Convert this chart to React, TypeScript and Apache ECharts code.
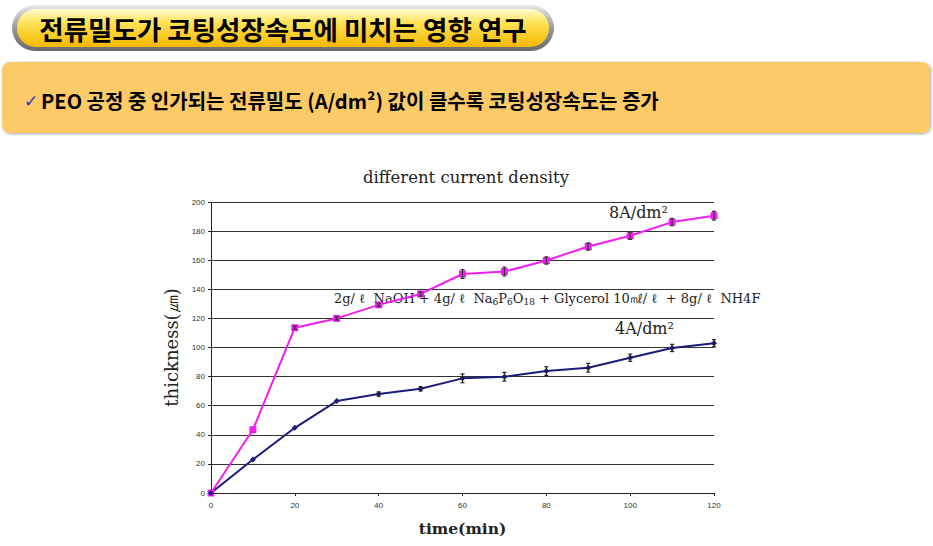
import React, { useEffect, useRef } from "react";
import * as echarts from "echarts";

const times = [0, 10, 20, 30, 40, 50, 60, 70, 80, 90, 100, 110, 120];
const thick8A = [0, 43.5, 113.6, 120, 129.3, 136.8, 150.5, 152.2, 159.8, 169.4, 176.8, 186.2, 190.6];
const err8A = [0, 0, 1, 1, 1, 1.5, 3, 3, 2.5, 2.5, 2.5, 2.5, 3];
const thick4A = [0, 23, 44.8, 63.2, 68, 71.6, 78.8, 79.9, 83.8, 86.1, 93, 99.7, 102.9];
const err4A = [0, 0, 0, 0, 1.5, 1.5, 3, 3, 3, 3, 2.5, 2.5, 2.5];

const titleText = "전류밀도가 코팅성장속도에 미치는 영향 연구";
const subText = "PEO 공정 중 인가되는 전류밀도 (A/dm²) 값이 클수록 코팅성장속도는 증가";
const chartTitle = "different current density";

const PINK = "#f01ef0";
const NAVY = "#1c1c7a";

function errData(vals: number[], errs: number[]) {
  return times.map((t, i) => [t, vals[i], errs[i]]);
}

function errRender(color: string) {
  return (params: any, api: any) => {
    const x = api.value(0);
    const y = api.value(1);
    const e = api.value(2);
    if (!e) return null;
    const top = api.coord([x, y + e]);
    const bot = api.coord([x, y - e]);
    const st = { stroke: color, lineWidth: 1.2 };
    return {
      type: "group",
      children: [
        { type: "line", shape: { x1: top[0], y1: top[1], x2: bot[0], y2: bot[1] }, style: st },
        { type: "line", shape: { x1: top[0] - 2, y1: top[1], x2: top[0] + 2, y2: top[1] }, style: st },
        { type: "line", shape: { x1: bot[0] - 2, y1: bot[1], x2: bot[0] + 2, y2: bot[1] }, style: st },
      ],
    };
  };
}

export default function App() {
  const ref = useRef<HTMLDivElement>(null);
  useEffect(() => {
    if (!ref.current) return;
    const chart = echarts.init(ref.current, null, { renderer: "svg" });
    const serif = "DejaVu Serif";
    chart.setOption({
      animation: false,
      backgroundColor: "#ffffff",
      title: {
        text: chartTitle,
        left: 461,
        top: 164,
        textAlign: "center",
        textStyle: { fontFamily: serif, fontSize: 16.5, fontWeight: "normal", color: "#222" },
      },
      grid: { left: 211, right: 219, top: 202, bottom: 53, containLabel: false },
      xAxis: {
        type: "value",
        min: 0,
        max: 120,
        interval: 20,
        name: "time(min)",
        nameLocation: "middle",
        nameGap: 27,
        nameTextStyle: { fontFamily: serif, fontSize: 15.5, color: "#222", fontWeight: "bold" },
        axisLine: { lineStyle: { color: "#222", width: 1 } },
        axisTick: { show: true, length: 3, lineStyle: { color: "#222" } },
        axisLabel: { fontFamily: "Liberation Sans", fontSize: 8, color: "#333", margin: 8 },
        splitLine: { show: false },
      },
      yAxis: {
        type: "value",
        min: 0,
        max: 200,
        interval: 20,
        name: "thickness(㎛)",
        nameLocation: "middle",
        nameGap: 27,
        nameRotate: 90,
        nameTextStyle: { fontFamily: serif, fontSize: 18, color: "#222" },
        axisLine: { show: true, lineStyle: { color: "#222", width: 1 } },
        axisTick: { show: true, length: 3, lineStyle: { color: "#222" } },
        axisLabel: { fontFamily: "Liberation Sans", fontSize: 8, color: "#333", margin: 6 },
        splitLine: { show: true, lineStyle: { color: "#333", width: 1 } },
      },
      graphic: [
        {
          type: "rect",
          shape: { x: 12, y: 5, width: 542, height: 46, r: 23 },
          style: {
            fill: new echarts.graphic.LinearGradient(0, 0, 0, 1, [
              { offset: 0, color: "#e8e8e8" },
              { offset: 0.5, color: "#9a9a9a" },
              { offset: 1, color: "#6a6a6a" },
            ]),
          },
        },
        {
          type: "rect",
          shape: { x: 17, y: 9, width: 532, height: 38, r: 19 },
          style: {
            fill: new echarts.graphic.LinearGradient(0, 0, 0, 1, [
              { offset: 0, color: "#fffbd0" },
              { offset: 0.35, color: "#ffe35a" },
              { offset: 1, color: "#f5b800" },
            ]),
          },
        },
        {
          type: "text",
          x: 283,
          y: 28,
          style: {
            text: titleText,
            fontFamily: "Noto Sans CJK KR",
            fontSize: 26.5,
            fontWeight: "bold",
            fill: "#000",
            align: "center",
            verticalAlign: "middle",
          },
        },
        {
          type: "rect",
          shape: { x: 2, y: 62, width: 928, height: 71, r: 8 },
          style: {
            fill: "#fdca68",
            shadowBlur: 3,
            shadowColor: "rgba(0,0,0,0.35)",
            shadowOffsetX: 1,
            shadowOffsetY: 1,
          },
        },
        {
          type: "text",
          x: 24,
          y: 101,
          style: {
            text: "✓",
            fontFamily: "DejaVu Sans",
            fontSize: 17,
            fill: "#3030c8",
            verticalAlign: "middle",
          },
        },
        {
          type: "text",
          x: 41,
          y: 100,
          style: {
            text: subText,
            fontFamily: "Noto Sans CJK KR",
            fontSize: 20,
            fontWeight: "bold",
            fill: "#000",
            verticalAlign: "middle",
          },
        },
        {
          type: "text",
          x: 609,
          y: 212,
          style: {
            text: "8A/dm²",
            fontFamily: serif,
            fontSize: 16,
            fill: "#222",
            verticalAlign: "middle",
          },
        },
        {
          type: "text",
          x: 615,
          y: 328,
          style: {
            text: "4A/dm²",
            fontFamily: serif,
            fontSize: 16,
            fill: "#222",
            verticalAlign: "middle",
          },
        },
        {
          type: "text",
          x: 334,
          y: 298,
          style: {
            text: "2g/ ℓ  NaOH + 4g/ ℓ  Na{s|6}P{s|6}O{s|18} + Glycerol 10㎖/ ℓ  + 8g/ ℓ  NH4F",
            fontFamily: serif,
            fontSize: 13,
            fill: "#222",
            verticalAlign: "middle",
            rich: {
              s: { fontFamily: serif, fontSize: 9, fill: "#222", padding: [8, 0, 0, 0] },
            },
          },
        },
      ],
      series: [
        {
          type: "line",
          name: "8A",
          data: times.map((t, i) => [t, thick8A[i]]),
          symbol: "rect",
          symbolSize: 7,
          lineStyle: { color: PINK, width: 2 },
          itemStyle: { color: PINK },
          z: 3,
        },
        {
          type: "line",
          name: "4A",
          data: times.map((t, i) => [t, thick4A[i]]),
          symbol: "diamond",
          symbolSize: 6,
          lineStyle: { color: NAVY, width: 2 },
          itemStyle: { color: NAVY },
          z: 3,
        },
        {
          type: "custom",
          data: errData(thick8A, err8A),
          renderItem: errRender("#333"),
          z: 4,
        },
        {
          type: "custom",
          data: errData(thick4A, err4A),
          renderItem: errRender("#222"),
          z: 4,
        },
      ],
    });
    return () => chart.dispose();
  }, []);
  return (
    <div
      ref={ref}
      style={{ position: "absolute", left: 0, top: 0, width: 933, height: 546, background: "#fff" }}
    />
  );
}
